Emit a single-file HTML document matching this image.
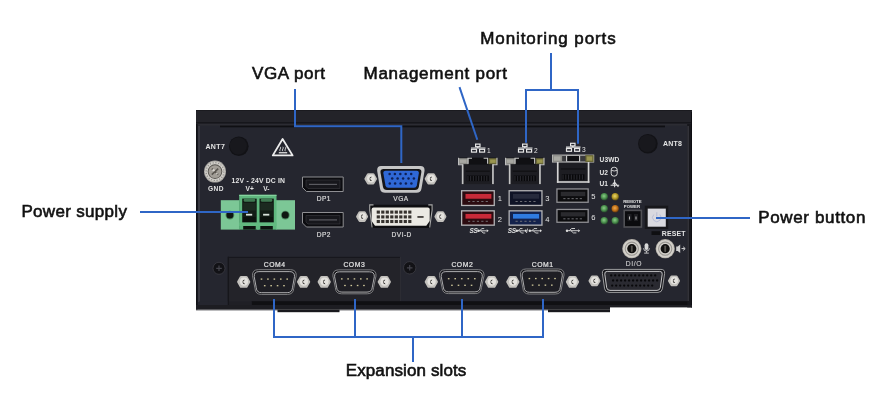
<!DOCTYPE html>
<html><head><meta charset="utf-8">
<style>
*{margin:0;padding:0;box-sizing:border-box}
html,body{width:876px;height:411px;background:#fff;overflow:hidden;position:relative;font-family:"Liberation Sans",sans-serif}
svg{position:absolute;left:0;top:0;will-change:transform}
svg text{font-family:"Liberation Sans",sans-serif}
.lbl{position:absolute;font-size:17px;font-weight:normal;-webkit-text-stroke:0.6px #111;color:#111;white-space:nowrap;line-height:1;transform-origin:0 0}
</style></head><body>
<svg width="876" height="411" viewBox="0 0 876 411">
<rect x="196.00" y="110.00" width="496.00" height="195.00" rx="0" fill="#25262f" />
<rect x="196.00" y="110.00" width="496.00" height="12.40" rx="0" fill="#232329" />
<rect x="196.00" y="110.00" width="496.00" height="0.80" rx="0" fill="#18181d" />
<rect x="196.00" y="122.40" width="496.00" height="1.20" rx="0" fill="#0e0e12" />
<rect x="196.00" y="123.60" width="496.00" height="2.00" rx="0" fill="#2c2c33" />
<rect x="220.00" y="125.60" width="445.00" height="1.70" rx="0" fill="#0f0f13" />
<rect x="196.00" y="124.00" width="1.60" height="186.00" rx="0" fill="#101014" />
<rect x="198.20" y="126.00" width="1.70" height="176.00" rx="0" fill="#3c3c45" />
<rect x="687.20" y="124.00" width="4.80" height="183.40" rx="0" fill="#17171c" />
<rect x="687.60" y="126.00" width="1.00" height="175.00" rx="0" fill="#44444c" />
<rect x="691.00" y="112.00" width="1.00" height="195.40" rx="0" fill="#0e0e12" />
<rect x="228.40" y="256.90" width="171.60" height="44.50" rx="0" fill="#232329" />
<rect x="228.40" y="256.90" width="171.60" height="1.00" rx="0" fill="#17171c" />
<rect x="227.80" y="256.90" width="1.20" height="44.50" rx="0" fill="#16161b" />
<rect x="400.00" y="256.90" width="1.00" height="44.50" rx="0" fill="#2c2c33" />
<rect x="251.50" y="301.20" width="436.00" height="4.00" rx="0" fill="#101013" />
<rect x="199.20" y="301.40" width="28.60" height="4.20" rx="0" fill="#25262f" />
<rect x="228.40" y="301.40" width="23.10" height="3.60" rx="0" fill="#1f1f25" />
<rect x="227.80" y="256.90" width="1.20" height="48.50" rx="0" fill="#16161b" />
<rect x="196.00" y="305.00" width="414.00" height="4.80" rx="0" fill="#1d1d22" />
<rect x="610.00" y="305.00" width="82.00" height="2.40" rx="0" fill="#1d1d22" />
<rect x="196.00" y="309.60" width="414.00" height="0.90" rx="0" fill="#7a7a7e" />
<rect x="277.50" y="309.60" width="62.00" height="2.60" rx="0" fill="#19191d" />
<rect x="548.00" y="309.60" width="62.00" height="2.60" rx="0" fill="#19191d" />
<text x="205.40" y="149.30" font-size="7.0" fill="#e4e4e4" text-anchor="start" font-weight="bold" letter-spacing="0.4">ANT7</text>
<circle cx="238.80" cy="146.30" r="9.80" fill="#121216" />
<circle cx="238.30" cy="145.80" r="8.60" fill="#18181d" />
<polygon points="282.6,139.0 272.8,155.4 292.6,155.4" fill="none" stroke="#ececec" stroke-width="1.8" stroke-linejoin="round"/>
<path d="M280.2,151.2 q-1,-1.1 0,-2.2 q1,-1.1 0,-2.2 M282.8,151.2 q-1,-1.1 0,-2.2 q1,-1.1 0,-2.2 M285.4,151.2 q-1,-1.1 0,-2.2 q1,-1.1 0,-2.2" stroke="#d8d8d8" stroke-width="0.9" fill="none"/>
<rect x="278.80" y="152.10" width="8.40" height="1.30" rx="0" fill="#e0e0e0" />
<circle cx="215.00" cy="171.60" r="11.00" fill="#a8a6a2" />
<circle cx="215.00" cy="171.60" r="10.20" fill="#d0cec9" />
<circle cx="215" cy="171.6" r="8.9" fill="none" stroke="#8e8c88" stroke-width="1.2" stroke-dasharray="1.2 1.6"/>
<circle cx="215.00" cy="171.60" r="7.30" fill="#55524e" />
<circle cx="215.00" cy="171.60" r="6.40" fill="#a29e97" />
<path d="M211.8,168.6 L218.2,174.6 M218.2,168.6 L211.8,174.6" stroke="#5a5650" stroke-width="1.6"/>
<circle cx="213.60" cy="170.20" r="1.20" fill="#d8d5cf" />
<circle cx="216.80" cy="173.40" r="1.00" fill="#c8c5bf" />
<text x="208.00" y="191.00" font-size="6.6" fill="#e4e4e4" text-anchor="start" font-weight="bold" letter-spacing="0.4">GND</text>
<text x="231.60" y="182.60" font-size="6.8" fill="#e4e4e4" text-anchor="start" font-weight="bold" letter-spacing="0.2">12V - 24V DC IN</text>
<text x="245.50" y="191.20" font-size="6.6" fill="#e4e4e4" text-anchor="start" font-weight="bold" >V+</text>
<text x="263.20" y="191.20" font-size="6.6" fill="#e4e4e4" text-anchor="start" font-weight="bold" >V-</text>
<rect x="220.80" y="200.20" width="18.70" height="29.40" rx="0" fill="#7cc796" />
<rect x="275.90" y="200.20" width="19.10" height="29.40" rx="0" fill="#7cc796" />
<rect x="239.20" y="194.80" width="37.30" height="34.80" rx="0" fill="#5fb77e" />
<rect x="239.20" y="194.80" width="37.30" height="1.20" rx="0" fill="#86d29f" />
<circle cx="229.90" cy="215.10" r="4.40" fill="#4f8a62" />
<circle cx="229.90" cy="215.10" r="3.50" fill="#0f1712" />
<circle cx="285.30" cy="215.10" r="4.40" fill="#4f8a62" />
<circle cx="285.30" cy="215.10" r="3.50" fill="#0f1712" />
<rect x="242.20" y="198.60" width="14.50" height="24.00" rx="0" fill="#121c15" />
<rect x="243.70" y="198.60" width="11.50" height="3.20" rx="1.5" fill="#3f7a52" />
<rect x="243.20" y="203.00" width="12.50" height="7.50" rx="0" fill="#1c2a20" />
<rect x="246.00" y="213.80" width="6.20" height="1.80" rx="0" fill="#d8e2da" />
<rect x="243.20" y="217.00" width="12.50" height="5.00" rx="0" fill="#0b120d" />
<rect x="243.20" y="226.00" width="12.50" height="3.60" rx="0" fill="#0d140f" />
<rect x="259.30" y="198.60" width="14.50" height="24.00" rx="0" fill="#121c15" />
<rect x="260.80" y="198.60" width="11.50" height="3.20" rx="1.5" fill="#3f7a52" />
<rect x="260.30" y="203.00" width="12.50" height="7.50" rx="0" fill="#1c2a20" />
<rect x="263.10" y="213.80" width="6.20" height="1.80" rx="0" fill="#d8e2da" />
<rect x="260.30" y="217.00" width="12.50" height="5.00" rx="0" fill="#0b120d" />
<rect x="260.30" y="226.00" width="12.50" height="3.60" rx="0" fill="#0d140f" />
<rect x="257.00" y="198.60" width="2.30" height="31.00" rx="0" fill="#5fb77e" />
<rect x="239.20" y="222.60" width="37.30" height="3.40" rx="0" fill="#62bb80" />
<path d="M302.5,177.0 L343.2,177.0 L343.2,191.5 L306.5,191.5 L302.5,187.5 Z" fill="#0c0c10" stroke="#8e8e92" stroke-width="1"/>
<path d="M306,180.0 L340,180.0 L340,188.5 L308,188.5 L306,186.5 Z" fill="#17171c" stroke="#3a3a40" stroke-width="0.6"/>
<rect x="309.00" y="183.80" width="28.00" height="1.20" rx="0" fill="#5a5a60" />
<path d="M302.5,212.5 L343.2,212.5 L343.2,227.0 L306.5,227.0 L302.5,223.0 Z" fill="#0c0c10" stroke="#8e8e92" stroke-width="1"/>
<path d="M306,215.5 L340,215.5 L340,224.0 L308,224.0 L306,222.0 Z" fill="#17171c" stroke="#3a3a40" stroke-width="0.6"/>
<rect x="309.00" y="219.30" width="28.00" height="1.20" rx="0" fill="#5a5a60" />
<text x="316.70" y="201.40" font-size="6.6" fill="#d8d8d8" text-anchor="start" font-weight="normal" letter-spacing="0.45" stroke="#d8d8d8" stroke-width="0.2">DP1</text>
<text x="316.70" y="237.30" font-size="6.6" fill="#d8d8d8" text-anchor="start" font-weight="normal" letter-spacing="0.45" stroke="#d8d8d8" stroke-width="0.2">DP2</text>
<polygon points="375.80,178.80 373.25,183.22 368.15,183.22 365.60,178.80 368.15,174.38 373.25,174.38" fill="#cfcdc9" stroke="#c2c0bc" stroke-width="2.4" stroke-linejoin="round"/>
<circle cx="371.00" cy="178.50" r="3.91" fill="#e4e2de" />
<path d="M371.60,176.50 a2.2,2.3 0 1 0 0.2,4.6 l-0.5,-1.2 a1.1,1.1 0 0 1 -0.1,-2.2 Z" fill="#3a3835"/>
<polygon points="436.10,178.80 433.55,183.22 428.45,183.22 425.90,178.80 428.45,174.38 433.55,174.38" fill="#cfcdc9" stroke="#c2c0bc" stroke-width="2.4" stroke-linejoin="round"/>
<circle cx="431.30" cy="178.50" r="3.91" fill="#e4e2de" />
<path d="M431.90,176.50 a2.2,2.3 0 1 0 0.2,4.6 l-0.5,-1.2 a1.1,1.1 0 0 1 -0.1,-2.2 Z" fill="#3a3835"/>
<path d="M381,166 L420.5,166 Q425,166 424.5,171 L421.5,188.5 Q420.8,192.8 416.5,192.8 L385,192.8 Q380.7,192.8 380,188.5 L377.2,171 Q376.8,166 381,166 Z" fill="#c6c6c6"/>
<path d="M383.5,169 L418.5,169 Q421.8,169 421.3,172.5 L418.8,187 Q418.2,190 415,190 L386.8,190 Q383.6,190 383,187 L380.5,172.5 Q380,169 383.5,169 Z" fill="#151518"/>
<path d="M385.6,170.8 L416.6,170.8 Q419.2,170.8 418.8,173.5 L416.8,185.6 Q416.3,187.8 414,187.8 L388.2,187.8 Q386,187.8 385.5,185.6 L383.4,173.5 Q383,170.8 385.6,170.8 Z" fill="#2f68d6"/>
<circle cx="389.60" cy="174.10" r="1.25" fill="#0d1f55" />
<circle cx="394.90" cy="174.10" r="1.25" fill="#0d1f55" />
<circle cx="400.30" cy="174.10" r="1.25" fill="#0d1f55" />
<circle cx="405.70" cy="174.10" r="1.25" fill="#0d1f55" />
<circle cx="411.20" cy="174.10" r="1.25" fill="#0d1f55" />
<circle cx="392.20" cy="178.60" r="1.25" fill="#0d1f55" />
<circle cx="397.60" cy="178.60" r="1.25" fill="#0d1f55" />
<circle cx="403.10" cy="178.60" r="1.25" fill="#0d1f55" />
<circle cx="408.50" cy="178.60" r="1.25" fill="#0d1f55" />
<circle cx="413.90" cy="178.60" r="1.25" fill="#0d1f55" />
<circle cx="389.80" cy="183.40" r="1.25" fill="#0d1f55" />
<circle cx="395.10" cy="183.40" r="1.25" fill="#0d1f55" />
<circle cx="400.60" cy="183.40" r="1.25" fill="#0d1f55" />
<circle cx="405.90" cy="183.40" r="1.25" fill="#0d1f55" />
<circle cx="411.40" cy="183.40" r="1.25" fill="#0d1f55" />
<text x="393.30" y="201.00" font-size="6.6" fill="#d8d8d8" text-anchor="start" font-weight="normal" letter-spacing="0.45" stroke="#d8d8d8" stroke-width="0.2">VGA</text>
<polygon points="366.90,216.60 364.50,220.76 359.70,220.76 357.30,216.60 359.70,212.44 364.50,212.44" fill="#cfcdc9" stroke="#c2c0bc" stroke-width="2.4" stroke-linejoin="round"/>
<circle cx="362.40" cy="216.30" r="3.72" fill="#e4e2de" />
<path d="M363.00,214.30 a2.2,2.3 0 1 0 0.2,4.6 l-0.5,-1.2 a1.1,1.1 0 0 1 -0.1,-2.2 Z" fill="#3a3835"/>
<polygon points="445.20,216.60 442.80,220.76 438.00,220.76 435.60,216.60 438.00,212.44 442.80,212.44" fill="#cfcdc9" stroke="#c2c0bc" stroke-width="2.4" stroke-linejoin="round"/>
<circle cx="440.70" cy="216.30" r="3.72" fill="#e4e2de" />
<path d="M441.30,214.30 a2.2,2.3 0 1 0 0.2,4.6 l-0.5,-1.2 a1.1,1.1 0 0 1 -0.1,-2.2 Z" fill="#3a3835"/>
<path d="M369.3,204.7 L432.5,204.7 L432.5,210 L430,228 L371.8,228 L369.3,210 Z" fill="#0e0e11"/>
<path d="M373.5,204.9 h-3.8 v5.2 l2.4,17.4 M428.3,204.9 h3.8 v5.2 l-2.4,17.4" stroke="#a8a8a8" stroke-width="1.1" fill="none"/>
<path d="M373.5,207.6 L427.8,207.6 Q429.7,207.6 429.7,209.6 L429.7,221 L426.3,225.7 L375,225.7 L371.6,221 L371.6,209.6 Q371.6,207.6 373.5,207.6 Z" fill="#ebe9e3"/>
<rect x="376.70" y="210.55" width="3.20" height="3.10" rx="0" fill="#36322e" />
<rect x="381.20" y="210.55" width="3.20" height="3.10" rx="0" fill="#36322e" />
<rect x="385.70" y="210.55" width="3.20" height="3.10" rx="0" fill="#36322e" />
<rect x="390.20" y="210.55" width="3.20" height="3.10" rx="0" fill="#36322e" />
<rect x="394.70" y="210.55" width="3.20" height="3.10" rx="0" fill="#36322e" />
<rect x="399.20" y="210.55" width="3.20" height="3.10" rx="0" fill="#36322e" />
<rect x="403.70" y="210.55" width="3.20" height="3.10" rx="0" fill="#36322e" />
<rect x="408.20" y="210.55" width="3.20" height="3.10" rx="0" fill="#36322e" />
<rect x="376.70" y="215.35" width="3.20" height="3.10" rx="0" fill="#36322e" />
<rect x="381.20" y="215.35" width="3.20" height="3.10" rx="0" fill="#36322e" />
<rect x="385.70" y="215.35" width="3.20" height="3.10" rx="0" fill="#36322e" />
<rect x="390.20" y="215.35" width="3.20" height="3.10" rx="0" fill="#36322e" />
<rect x="394.70" y="215.35" width="3.20" height="3.10" rx="0" fill="#36322e" />
<rect x="399.20" y="215.35" width="3.20" height="3.10" rx="0" fill="#36322e" />
<rect x="403.70" y="215.35" width="3.20" height="3.10" rx="0" fill="#36322e" />
<rect x="408.20" y="215.35" width="3.20" height="3.10" rx="0" fill="#36322e" />
<rect x="376.70" y="219.95" width="3.20" height="3.10" rx="0" fill="#36322e" />
<rect x="381.20" y="219.95" width="3.20" height="3.10" rx="0" fill="#36322e" />
<rect x="385.70" y="219.95" width="3.20" height="3.10" rx="0" fill="#36322e" />
<rect x="390.20" y="219.95" width="3.20" height="3.10" rx="0" fill="#36322e" />
<rect x="394.70" y="219.95" width="3.20" height="3.10" rx="0" fill="#36322e" />
<rect x="399.20" y="219.95" width="3.20" height="3.10" rx="0" fill="#36322e" />
<rect x="403.70" y="219.95" width="3.20" height="3.10" rx="0" fill="#36322e" />
<rect x="408.20" y="219.95" width="3.20" height="3.10" rx="0" fill="#36322e" />
<rect x="417.40" y="216.10" width="6.20" height="1.70" rx="0" fill="#3a3632" />
<text x="391.60" y="236.90" font-size="6.6" fill="#d8d8d8" text-anchor="start" font-weight="normal" letter-spacing="0.45" stroke="#d8d8d8" stroke-width="0.2">DVI-D</text>
<g stroke="#e6e6e6" stroke-width="1.2" fill="none"><rect x="475.6" y="144.1" width="4.4" height="2.6"/><rect x="471.5" y="149.3" width="5" height="2.8"/><rect x="479.6" y="149.3" width="5" height="2.8"/><path d="M477.8,146.7 v1.3 M471.0,148.0 h14.5"/></g>
<text x="487.00" y="152.60" font-size="6.6" fill="#e4e4e4" text-anchor="start" font-weight="normal" >1</text>
<g stroke="#e6e6e6" stroke-width="1.2" fill="none"><rect x="522.6" y="144.1" width="4.4" height="2.6"/><rect x="518.5" y="149.3" width="5" height="2.8"/><rect x="526.6" y="149.3" width="5" height="2.8"/><path d="M524.8,146.7 v1.3 M518.0,148.0 h14.5"/></g>
<text x="534.00" y="152.60" font-size="6.6" fill="#e4e4e4" text-anchor="start" font-weight="normal" >2</text>
<g stroke="#e6e6e6" stroke-width="1.2" fill="none"><rect x="570.6" y="143.3" width="4.4" height="2.6"/><rect x="566.5" y="148.5" width="5" height="2.8"/><rect x="574.6" y="148.5" width="5" height="2.8"/><path d="M572.8,145.9 v1.3 M566.0,147.2 h14.5"/></g>
<text x="582.00" y="151.80" font-size="6.6" fill="#e4e4e4" text-anchor="start" font-weight="normal" >3</text>
<rect x="461.80" y="164.70" width="32.00" height="19.40" rx="0" fill="#1d1d22" />
<rect x="458.00" y="157.70" width="39.60" height="7.00" rx="0" fill="#101013" />
<rect x="458.50" y="158.20" width="10.00" height="6.00" rx="0" fill="#8c8c88" />
<rect x="460.00" y="159.50" width="6.50" height="3.40" rx="0" fill="#a8a8a2" />
<rect x="488.60" y="158.20" width="8.50" height="6.00" rx="0" fill="#6a6838" />
<rect x="490.10" y="159.50" width="5.50" height="3.40" rx="0" fill="#9a9650" />
<path d="M458.6,157.7 v7.0 h4.2 M468.0,163.7 v-5.4 h4 M483.6,158.3 h4 v5.4 M497.0,157.7 v7.0 h-4.2" fill="none" stroke="#c4c4c4" stroke-width="1.1"/>
<rect x="461.80" y="164.20" width="1.70" height="19.90" rx="0" fill="#c4c4c4" />
<rect x="492.10" y="164.20" width="1.70" height="19.90" rx="0" fill="#c4c4c4" />
<rect x="465.80" y="170.70" width="24.00" height="0.90" rx="0" fill="#0c0c0e" />
<rect x="466.80" y="175.60" width="22.00" height="5.50" rx="0" fill="#08080a" />
<rect x="467.40" y="175.90" width="1.10" height="5.00" rx="0" fill="#2a2a30" />
<rect x="470.10" y="175.90" width="1.10" height="5.00" rx="0" fill="#2a2a30" />
<rect x="472.79" y="175.90" width="1.10" height="5.00" rx="0" fill="#2a2a30" />
<rect x="475.49" y="175.90" width="1.10" height="5.00" rx="0" fill="#2a2a30" />
<rect x="478.19" y="175.90" width="1.10" height="5.00" rx="0" fill="#2a2a30" />
<rect x="480.89" y="175.90" width="1.10" height="5.00" rx="0" fill="#2a2a30" />
<rect x="483.58" y="175.90" width="1.10" height="5.00" rx="0" fill="#2a2a30" />
<rect x="486.28" y="175.90" width="1.10" height="5.00" rx="0" fill="#2a2a30" />
<rect x="508.80" y="164.70" width="32.00" height="19.40" rx="0" fill="#1d1d22" />
<rect x="505.00" y="157.70" width="39.60" height="7.00" rx="0" fill="#101013" />
<rect x="505.50" y="158.20" width="10.00" height="6.00" rx="0" fill="#8c8c88" />
<rect x="507.00" y="159.50" width="6.50" height="3.40" rx="0" fill="#a8a8a2" />
<rect x="535.60" y="158.20" width="8.50" height="6.00" rx="0" fill="#6a6838" />
<rect x="537.10" y="159.50" width="5.50" height="3.40" rx="0" fill="#9a9650" />
<path d="M505.6,157.7 v7.0 h4.2 M515.0,163.7 v-5.4 h4 M530.6,158.3 h4 v5.4 M544.0,157.7 v7.0 h-4.2" fill="none" stroke="#c4c4c4" stroke-width="1.1"/>
<rect x="508.80" y="164.20" width="1.70" height="19.90" rx="0" fill="#c4c4c4" />
<rect x="539.10" y="164.20" width="1.70" height="19.90" rx="0" fill="#c4c4c4" />
<rect x="512.80" y="170.70" width="24.00" height="0.90" rx="0" fill="#0c0c0e" />
<rect x="513.80" y="175.60" width="22.00" height="5.50" rx="0" fill="#08080a" />
<rect x="514.40" y="175.90" width="1.10" height="5.00" rx="0" fill="#2a2a30" />
<rect x="517.10" y="175.90" width="1.10" height="5.00" rx="0" fill="#2a2a30" />
<rect x="519.79" y="175.90" width="1.10" height="5.00" rx="0" fill="#2a2a30" />
<rect x="522.49" y="175.90" width="1.10" height="5.00" rx="0" fill="#2a2a30" />
<rect x="525.19" y="175.90" width="1.10" height="5.00" rx="0" fill="#2a2a30" />
<rect x="527.89" y="175.90" width="1.10" height="5.00" rx="0" fill="#2a2a30" />
<rect x="530.58" y="175.90" width="1.10" height="5.00" rx="0" fill="#2a2a30" />
<rect x="533.28" y="175.90" width="1.10" height="5.00" rx="0" fill="#2a2a30" />
<rect x="556.90" y="162.50" width="32.50" height="20.30" rx="0" fill="#1d1d22" />
<rect x="552.00" y="154.60" width="42.20" height="7.90" rx="0" fill="#101013" />
<rect x="552.6" y="155.2" width="41.0" height="6.7" fill="none" stroke="#d4d4d4" stroke-width="1.2"/>
<rect x="552.50" y="155.10" width="10.00" height="6.90" rx="0" fill="#8c8c88" />
<rect x="554.00" y="156.40" width="6.50" height="4.30" rx="0" fill="#a8a8a2" />
<rect x="585.20" y="155.10" width="8.50" height="6.90" rx="0" fill="#6a6838" />
<rect x="586.70" y="156.40" width="5.50" height="4.30" rx="0" fill="#9a9650" />
<rect x="562.50" y="155.80" width="4.10" height="5.50" rx="0" fill="#3a3a3d" />
<rect x="579.60" y="155.80" width="5.60" height="5.50" rx="0" fill="#3a3a3d" />
<path d="M566.6,161.5 v-5.7 M579.6,161.5 v-5.7" stroke="#d4d4d4" stroke-width="1.1"/>
<rect x="556.90" y="162.00" width="1.70" height="20.80" rx="0" fill="#d4d4d4" />
<rect x="587.70" y="162.00" width="1.70" height="20.80" rx="0" fill="#d4d4d4" />
<rect x="556.90" y="181.20" width="32.50" height="1.60" rx="0" fill="#d4d4d4" />
<rect x="560.90" y="168.50" width="24.50" height="0.90" rx="0" fill="#0c0c0e" />
<rect x="561.90" y="174.30" width="22.50" height="5.50" rx="0" fill="#08080a" />
<rect x="562.50" y="174.60" width="1.10" height="5.00" rx="0" fill="#2a2a30" />
<rect x="565.26" y="174.60" width="1.10" height="5.00" rx="0" fill="#2a2a30" />
<rect x="568.03" y="174.60" width="1.10" height="5.00" rx="0" fill="#2a2a30" />
<rect x="570.79" y="174.60" width="1.10" height="5.00" rx="0" fill="#2a2a30" />
<rect x="573.55" y="174.60" width="1.10" height="5.00" rx="0" fill="#2a2a30" />
<rect x="576.32" y="174.60" width="1.10" height="5.00" rx="0" fill="#2a2a30" />
<rect x="579.08" y="174.60" width="1.10" height="5.00" rx="0" fill="#2a2a30" />
<rect x="581.84" y="174.60" width="1.10" height="5.00" rx="0" fill="#2a2a30" />
<rect x="461.00" y="190.10" width="33.90" height="16.00" rx="0" fill="#b4b4b6" />
<rect x="462.30" y="191.40" width="31.30" height="13.40" rx="0" fill="#2c0b10" />
<rect x="465.50" y="193.94" width="25.90" height="4.80" rx="0" fill="#c82a38" />
<rect x="468.00" y="200.98" width="2.20" height="0.90" rx="0" fill="#77777c" />
<rect x="472.42" y="200.98" width="2.20" height="0.90" rx="0" fill="#77777c" />
<rect x="476.84" y="200.98" width="2.20" height="0.90" rx="0" fill="#77777c" />
<rect x="481.27" y="200.98" width="2.20" height="0.90" rx="0" fill="#77777c" />
<rect x="485.69" y="200.98" width="2.20" height="0.90" rx="0" fill="#77777c" />
<rect x="461.00" y="210.20" width="33.90" height="15.60" rx="0" fill="#b4b4b6" />
<rect x="462.30" y="211.50" width="31.30" height="13.00" rx="0" fill="#2c0b10" />
<rect x="465.50" y="213.94" width="25.90" height="4.68" rx="0" fill="#c82a38" />
<rect x="468.00" y="220.81" width="2.20" height="0.90" rx="0" fill="#77777c" />
<rect x="472.42" y="220.81" width="2.20" height="0.90" rx="0" fill="#77777c" />
<rect x="476.84" y="220.81" width="2.20" height="0.90" rx="0" fill="#77777c" />
<rect x="481.27" y="220.81" width="2.20" height="0.90" rx="0" fill="#77777c" />
<rect x="485.69" y="220.81" width="2.20" height="0.90" rx="0" fill="#77777c" />
<rect x="508.50" y="190.10" width="34.10" height="16.00" rx="0" fill="#b4b4b6" />
<rect x="509.80" y="191.40" width="31.50" height="13.40" rx="0" fill="#0f1326" />
<rect x="513.00" y="193.94" width="26.10" height="4.80" rx="0" fill="#262a3c" />
<rect x="515.50" y="200.98" width="2.20" height="0.90" rx="0" fill="#77777c" />
<rect x="519.97" y="200.98" width="2.20" height="0.90" rx="0" fill="#77777c" />
<rect x="524.43" y="200.98" width="2.20" height="0.90" rx="0" fill="#77777c" />
<rect x="528.90" y="200.98" width="2.20" height="0.90" rx="0" fill="#77777c" />
<rect x="533.37" y="200.98" width="2.20" height="0.90" rx="0" fill="#77777c" />
<rect x="508.50" y="210.20" width="34.10" height="15.60" rx="0" fill="#b4b4b6" />
<rect x="509.80" y="211.50" width="31.50" height="13.00" rx="0" fill="#14224c" />
<rect x="513.00" y="213.94" width="26.10" height="4.68" rx="0" fill="#2f7be0" />
<rect x="515.50" y="220.81" width="2.20" height="0.90" rx="0" fill="#77777c" />
<rect x="519.97" y="220.81" width="2.20" height="0.90" rx="0" fill="#77777c" />
<rect x="524.43" y="220.81" width="2.20" height="0.90" rx="0" fill="#77777c" />
<rect x="528.90" y="220.81" width="2.20" height="0.90" rx="0" fill="#77777c" />
<rect x="533.37" y="220.81" width="2.20" height="0.90" rx="0" fill="#77777c" />
<rect x="556.30" y="188.30" width="32.50" height="14.60" rx="0" fill="#909094" />
<rect x="557.60" y="189.60" width="29.90" height="12.00" rx="0" fill="#0c0c0e" />
<rect x="560.80" y="191.80" width="24.50" height="4.38" rx="0" fill="#2a2a2e" />
<rect x="563.30" y="198.23" width="2.20" height="0.90" rx="0" fill="#77777c" />
<rect x="567.41" y="198.23" width="2.20" height="0.90" rx="0" fill="#77777c" />
<rect x="571.52" y="198.23" width="2.20" height="0.90" rx="0" fill="#77777c" />
<rect x="575.63" y="198.23" width="2.20" height="0.90" rx="0" fill="#77777c" />
<rect x="579.74" y="198.23" width="2.20" height="0.90" rx="0" fill="#77777c" />
<rect x="556.30" y="208.80" width="32.50" height="14.10" rx="0" fill="#909094" />
<rect x="557.60" y="210.10" width="29.90" height="11.50" rx="0" fill="#0c0c0e" />
<rect x="560.80" y="212.18" width="24.50" height="4.23" rx="0" fill="#2a2a2e" />
<rect x="563.30" y="218.39" width="2.20" height="0.90" rx="0" fill="#77777c" />
<rect x="567.41" y="218.39" width="2.20" height="0.90" rx="0" fill="#77777c" />
<rect x="571.52" y="218.39" width="2.20" height="0.90" rx="0" fill="#77777c" />
<rect x="575.63" y="218.39" width="2.20" height="0.90" rx="0" fill="#77777c" />
<rect x="579.74" y="218.39" width="2.20" height="0.90" rx="0" fill="#77777c" />
<text x="497.80" y="201.40" font-size="7.6" fill="#e4e4e4" text-anchor="start" font-weight="normal" >1</text>
<text x="497.80" y="221.50" font-size="7.6" fill="#e4e4e4" text-anchor="start" font-weight="normal" >2</text>
<text x="545.30" y="201.40" font-size="7.6" fill="#e4e4e4" text-anchor="start" font-weight="normal" >3</text>
<text x="545.30" y="221.50" font-size="7.6" fill="#e4e4e4" text-anchor="start" font-weight="normal" >4</text>
<text x="591.20" y="198.80" font-size="7.6" fill="#e4e4e4" text-anchor="start" font-weight="normal" >5</text>
<text x="591.20" y="219.50" font-size="7.6" fill="#e4e4e4" text-anchor="start" font-weight="normal" >6</text>
<text x="469.50" y="233.00" font-size="6.4" fill="#e4e4e4" text-anchor="start" font-weight="bold" font-style="italic" letter-spacing="-0.3">SS</text>
<g stroke="#dcdcdc" stroke-width="0.9" fill="none"><path d="M477.7,230.8 h9.0 M479.9,230.8 l1.8,-2.2 h2.5 M481.3,230.8 l1.8,2.2 h2.2"/></g>
<circle cx="478.50" cy="230.80" r="1.20" fill="#dcdcdc" />
<path d="M486.7,229.3 l2,1.5 l-2,1.5 Z" fill="#dcdcdc"/>
<text x="507.80" y="233.00" font-size="6.4" fill="#e4e4e4" text-anchor="start" font-weight="bold" font-style="italic" letter-spacing="-0.3">SS</text>
<g stroke="#dcdcdc" stroke-width="0.9" fill="none"><path d="M516.0,230.8 h9.0 M518.2,230.8 l1.8,-2.2 h2.5 M519.6,230.8 l1.8,2.2 h2.2"/></g>
<circle cx="516.80" cy="230.80" r="1.20" fill="#dcdcdc" />
<path d="M525.0,229.3 l2,1.5 l-2,1.5 Z" fill="#dcdcdc"/>
<path d="M527.5,228.6 l-1,4.4" stroke="#dcdcdc" stroke-width="0.9"/>
<g stroke="#dcdcdc" stroke-width="0.9" fill="none"><path d="M529.0,230.8 h11.0 M531.8,230.8 l2.2,-2.2 h3.1 M533.4,230.8 l2.2,2.2 h2.8"/></g>
<circle cx="529.80" cy="230.80" r="1.20" fill="#dcdcdc" />
<path d="M540.0,229.3 l2,1.5 l-2,1.5 Z" fill="#dcdcdc"/>
<g stroke="#dcdcdc" stroke-width="0.9" fill="none"><path d="M566.2,230.7 h12.0 M569.2,230.7 l2.4,-2.2 h3.4 M571.0,230.7 l2.4,2.2 h3.0"/></g>
<circle cx="567.00" cy="230.70" r="1.20" fill="#dcdcdc" />
<path d="M578.2,229.2 l2,1.5 l-2,1.5 Z" fill="#dcdcdc"/>
<circle cx="647.90" cy="143.80" r="9.80" fill="#121216" />
<circle cx="647.40" cy="143.30" r="8.60" fill="#18181d" />
<text x="662.90" y="146.40" font-size="7.0" fill="#e4e4e4" text-anchor="start" font-weight="bold" letter-spacing="0.2">ANT8</text>
<text x="599.60" y="162.30" font-size="6.6" fill="#e4e4e4" text-anchor="start" font-weight="bold" letter-spacing="0.1">U3WD</text>
<text x="599.60" y="174.50" font-size="6.6" fill="#e4e4e4" text-anchor="start" font-weight="bold" >U2</text>
<rect x="611.2" y="167.3" width="6.0" height="8.8" rx="2.6" fill="none" stroke="#dcdcdc" stroke-width="1"/><path d="M611.4,170.3 q2.8,1.4 5.6,0" stroke="#dcdcdc" stroke-width="0.9" fill="none"/>
<text x="599.60" y="186.40" font-size="6.6" fill="#e4e4e4" text-anchor="start" font-weight="bold" >U1</text>
<path d="M610.6,185.2 h8.6 M614.6,179.6 v7.6 M614.6,182.2 l3.8,4.6 M614.6,182.2 l-2,2.2" stroke="#dcdcdc" stroke-width="1.1" fill="none"/>
<defs><radialGradient id="lg" cx="0.45" cy="0.4" r="0.6"><stop offset="0" stop-color="#8ccc88"/><stop offset="0.55" stop-color="#4e9450"/><stop offset="1" stop-color="#24452a"/></radialGradient><radialGradient id="ly" cx="0.45" cy="0.4" r="0.6"><stop offset="0" stop-color="#e8d670"/><stop offset="0.55" stop-color="#b89e2a"/><stop offset="1" stop-color="#5a4a14"/></radialGradient><radialGradient id="lo" cx="0.45" cy="0.4" r="0.6"><stop offset="0" stop-color="#eeaa50"/><stop offset="0.55" stop-color="#c4741a"/><stop offset="1" stop-color="#5e340e"/></radialGradient></defs>
<circle cx="604.30" cy="196.80" r="3.70" fill="url(#lg)" />
<circle cx="615.20" cy="196.80" r="3.70" fill="url(#ly)" />
<circle cx="604.30" cy="208.80" r="3.70" fill="url(#lg)" />
<circle cx="615.20" cy="208.80" r="3.70" fill="url(#lo)" />
<circle cx="604.30" cy="220.80" r="3.70" fill="url(#lg)" />
<circle cx="615.20" cy="220.80" r="3.70" fill="url(#lg)" />
<text x="623.20" y="202.90" font-size="4.3" fill="#e4e4e4" text-anchor="start" font-weight="bold" >REMOTE</text>
<text x="623.80" y="207.80" font-size="4.3" fill="#e4e4e4" text-anchor="start" font-weight="bold" >POWER</text>
<rect x="624.20" y="210.40" width="17.20" height="16.60" rx="0" fill="#0b0b0e" stroke="#505055" stroke-width="1.6"/>
<rect x="627.50" y="214.00" width="4.00" height="7.00" rx="0" fill="#1e1e22" />
<rect x="634.00" y="214.00" width="4.00" height="7.00" rx="0" fill="#1e1e22" />
<rect x="629.00" y="216.50" width="1.00" height="3.00" rx="0" fill="#bbb" />
<rect x="635.50" y="216.50" width="1.00" height="3.00" rx="0" fill="#bbb" />
<rect x="644.80" y="205.70" width="23.40" height="23.30" rx="0" fill="#17171b" />
<rect x="647.70" y="208.60" width="18.10" height="18.10" rx="0" fill="#d9d9df" />
<path d="M653.8,214.5 a4.2,4.2 0 1 0 6,0" fill="none" stroke="#a9b0d0" stroke-width="0.7"/><path d="M656.8,212.2 v4.2" stroke="#a9b0d0" stroke-width="0.7"/>
<rect x="651.50" y="231.20" width="8.80" height="3.80" rx="0" fill="#0f0f12" />
<text x="661.80" y="235.60" font-size="6.9" fill="#e4e4e4" text-anchor="start" font-weight="bold" letter-spacing="0.2">RESET</text>
<circle cx="631.80" cy="248.70" r="9.60" fill="#b4b0a9" />
<circle cx="631.80" cy="248.70" r="8.80" fill="#d4d1cb" />
<circle cx="631.8" cy="248.7" r="6.6" fill="none" stroke="#9a9792" stroke-width="1.1"/>
<circle cx="631.80" cy="248.70" r="4.60" fill="#121110" />
<rect x="630.90" y="245.40" width="1.80" height="6.60" rx="0.9" fill="#55524d" />
<circle cx="665.20" cy="248.70" r="9.60" fill="#b4b0a9" />
<circle cx="665.20" cy="248.70" r="8.80" fill="#d4d1cb" />
<circle cx="665.2" cy="248.7" r="6.6" fill="none" stroke="#9a9792" stroke-width="1.1"/>
<circle cx="665.20" cy="248.70" r="4.60" fill="#121110" />
<rect x="664.30" y="245.40" width="1.80" height="6.60" rx="0.9" fill="#55524d" />
<path d="M644.6,245.2 a1.9,1.9 0 0 1 3.8,0 v2.8 a1.9,1.9 0 0 1 -3.8,0 Z" fill="#d8d8d8"/><path d="M643.6,248.2 a2.9,2.9 0 0 0 5.8,0 M646.5,251.1 v1.6 M644.2,253.1 h4.6" stroke="#d8d8d8" stroke-width="0.9" fill="none"/>
<path d="M676.2,246.4 h1.6 l2.4,-2 v8.6 l-2.4,-2 h-1.6 Z" fill="#d0d0d0"/><path d="M681.5,248.6 h3.2 M683.2,246.8 l2,1.8 l-2,1.8" stroke="#d8d8d8" stroke-width="1" fill="none"/>
<circle cx="219.00" cy="268.30" r="6.00" fill="#121216" stroke="#3c3c44" stroke-width="0.8"/>
<path d="M216.2,268.3 h5.6 M219.0,265.5 v5.6" stroke="#44444c" stroke-width="1.2"/>
<circle cx="409.70" cy="267.80" r="6.20" fill="#121216" stroke="#3c3c44" stroke-width="0.8"/>
<path d="M406.9,267.8 h5.6 M409.7,265.0 v5.6" stroke="#44444c" stroke-width="1.2"/>
<text x="263.80" y="266.90" font-size="6.8" fill="#e2e2e2" text-anchor="start" font-weight="normal" letter-spacing="0.55" stroke="#e2e2e2" stroke-width="0.2">COM4</text>
<polygon points="249.10,281.90 246.40,286.58 241.00,286.58 238.30,281.90 241.00,277.22 246.40,277.22" fill="#cfcdc9" stroke="#c2c0bc" stroke-width="2.4" stroke-linejoin="round"/>
<circle cx="244.00" cy="281.60" r="4.09" fill="#e4e2de" />
<path d="M244.60,279.60 a2.2,2.3 0 1 0 0.2,4.6 l-0.5,-1.2 a1.1,1.1 0 0 1 -0.1,-2.2 Z" fill="#3a3835"/>
<polygon points="309.00,281.90 306.30,286.58 300.90,286.58 298.20,281.90 300.90,277.22 306.30,277.22" fill="#cfcdc9" stroke="#c2c0bc" stroke-width="2.4" stroke-linejoin="round"/>
<circle cx="303.90" cy="281.60" r="4.09" fill="#e4e2de" />
<path d="M304.50,279.60 a2.2,2.3 0 1 0 0.2,4.6 l-0.5,-1.2 a1.1,1.1 0 0 1 -0.1,-2.2 Z" fill="#3a3835"/>
<path d="M258.20,269.70 L290.50,269.70 Q296.50,269.70 296.20,275.70 L293.70,288.40 Q293.40,294.40 287.40,294.40 L261.30,294.40 Q255.30,294.40 255.00,288.40 L252.50,275.70 Q252.20,269.70 258.20,269.70 Z" fill="#141418" stroke="#8a8a8c" stroke-width="0.9"/>
<path d="M258.90,271.60 L289.80,271.60 Q294.80,271.60 294.50,276.60 L292.46,287.70 Q292.16,292.70 287.16,292.70 L261.54,292.70 Q256.54,292.70 256.24,287.70 L254.20,276.60 Q253.90,271.60 258.90,271.60 Z" fill="#1e1e24" stroke="#bdbdbf" stroke-width="0.9"/>
<rect x="260.70" y="278.45" width="1.60" height="1.30" rx="0" fill="#cfc79a" />
<rect x="267.13" y="278.45" width="1.60" height="1.30" rx="0" fill="#cfc79a" />
<rect x="273.55" y="278.45" width="1.60" height="1.30" rx="0" fill="#cfc79a" />
<rect x="279.97" y="278.45" width="1.60" height="1.30" rx="0" fill="#cfc79a" />
<rect x="286.40" y="278.45" width="1.60" height="1.30" rx="0" fill="#cfc79a" />
<rect x="263.91" y="285.05" width="1.60" height="1.30" rx="0" fill="#cfc79a" />
<rect x="270.34" y="285.05" width="1.60" height="1.30" rx="0" fill="#cfc79a" />
<rect x="276.76" y="285.05" width="1.60" height="1.30" rx="0" fill="#cfc79a" />
<rect x="283.19" y="285.05" width="1.60" height="1.30" rx="0" fill="#cfc79a" />
<text x="343.40" y="266.90" font-size="6.8" fill="#e2e2e2" text-anchor="start" font-weight="normal" letter-spacing="0.55" stroke="#e2e2e2" stroke-width="0.2">COM3</text>
<polygon points="329.60,281.90 326.90,286.58 321.50,286.58 318.80,281.90 321.50,277.22 326.90,277.22" fill="#cfcdc9" stroke="#c2c0bc" stroke-width="2.4" stroke-linejoin="round"/>
<circle cx="324.50" cy="281.60" r="4.09" fill="#e4e2de" />
<path d="M325.10,279.60 a2.2,2.3 0 1 0 0.2,4.6 l-0.5,-1.2 a1.1,1.1 0 0 1 -0.1,-2.2 Z" fill="#3a3835"/>
<polygon points="389.70,281.90 387.00,286.58 381.60,286.58 378.90,281.90 381.60,277.22 387.00,277.22" fill="#cfcdc9" stroke="#c2c0bc" stroke-width="2.4" stroke-linejoin="round"/>
<circle cx="384.60" cy="281.60" r="4.09" fill="#e4e2de" />
<path d="M385.20,279.60 a2.2,2.3 0 1 0 0.2,4.6 l-0.5,-1.2 a1.1,1.1 0 0 1 -0.1,-2.2 Z" fill="#3a3835"/>
<path d="M338.60,269.90 L370.30,269.90 Q376.30,269.90 376.00,275.90 L373.54,287.80 Q373.24,293.80 367.24,293.80 L341.66,293.80 Q335.66,293.80 335.36,287.80 L332.90,275.90 Q332.60,269.90 338.60,269.90 Z" fill="#141418" stroke="#8a8a8c" stroke-width="0.9"/>
<path d="M339.30,271.80 L369.60,271.80 Q374.60,271.80 374.30,276.80 L372.30,287.10 Q372.00,292.10 367.00,292.10 L341.90,292.10 Q336.90,292.10 336.60,287.10 L334.60,276.80 Q334.30,271.80 339.30,271.80 Z" fill="#1e1e24" stroke="#bdbdbf" stroke-width="0.9"/>
<rect x="340.98" y="278.25" width="1.60" height="1.30" rx="0" fill="#cfc79a" />
<rect x="347.31" y="278.25" width="1.60" height="1.30" rx="0" fill="#cfc79a" />
<rect x="353.65" y="278.25" width="1.60" height="1.30" rx="0" fill="#cfc79a" />
<rect x="359.99" y="278.25" width="1.60" height="1.30" rx="0" fill="#cfc79a" />
<rect x="366.32" y="278.25" width="1.60" height="1.30" rx="0" fill="#cfc79a" />
<rect x="344.15" y="284.85" width="1.60" height="1.30" rx="0" fill="#cfc79a" />
<rect x="350.48" y="284.85" width="1.60" height="1.30" rx="0" fill="#cfc79a" />
<rect x="356.82" y="284.85" width="1.60" height="1.30" rx="0" fill="#cfc79a" />
<rect x="363.15" y="284.85" width="1.60" height="1.30" rx="0" fill="#cfc79a" />
<text x="451.40" y="266.90" font-size="6.8" fill="#e2e2e2" text-anchor="start" font-weight="normal" letter-spacing="0.55" stroke="#e2e2e2" stroke-width="0.2">COM2</text>
<polygon points="436.70,281.90 434.00,286.58 428.60,286.58 425.90,281.90 428.60,277.22 434.00,277.22" fill="#cfcdc9" stroke="#c2c0bc" stroke-width="2.4" stroke-linejoin="round"/>
<circle cx="431.60" cy="281.60" r="4.09" fill="#e4e2de" />
<path d="M432.20,279.60 a2.2,2.3 0 1 0 0.2,4.6 l-0.5,-1.2 a1.1,1.1 0 0 1 -0.1,-2.2 Z" fill="#3a3835"/>
<polygon points="497.00,281.90 494.30,286.58 488.90,286.58 486.20,281.90 488.90,277.22 494.30,277.22" fill="#cfcdc9" stroke="#c2c0bc" stroke-width="2.4" stroke-linejoin="round"/>
<circle cx="491.90" cy="281.60" r="4.09" fill="#e4e2de" />
<path d="M492.50,279.60 a2.2,2.3 0 1 0 0.2,4.6 l-0.5,-1.2 a1.1,1.1 0 0 1 -0.1,-2.2 Z" fill="#3a3835"/>
<path d="M445.20,269.70 L478.30,269.70 Q484.30,269.70 484.00,275.70 L481.44,287.60 Q481.14,293.60 475.14,293.60 L448.36,293.60 Q442.36,293.60 442.06,287.60 L439.50,275.70 Q439.20,269.70 445.20,269.70 Z" fill="#141418" stroke="#8a8a8c" stroke-width="0.9"/>
<path d="M445.90,271.60 L477.60,271.60 Q482.60,271.60 482.30,276.60 L480.22,286.90 Q479.92,291.90 474.92,291.90 L448.58,291.90 Q443.58,291.90 443.28,286.90 L441.20,276.60 Q440.90,271.60 445.90,271.60 Z" fill="#1e1e24" stroke="#bdbdbf" stroke-width="0.9"/>
<rect x="447.87" y="278.05" width="1.60" height="1.30" rx="0" fill="#cfc79a" />
<rect x="454.41" y="278.05" width="1.60" height="1.30" rx="0" fill="#cfc79a" />
<rect x="460.95" y="278.05" width="1.60" height="1.30" rx="0" fill="#cfc79a" />
<rect x="467.49" y="278.05" width="1.60" height="1.30" rx="0" fill="#cfc79a" />
<rect x="474.03" y="278.05" width="1.60" height="1.30" rx="0" fill="#cfc79a" />
<rect x="451.14" y="284.65" width="1.60" height="1.30" rx="0" fill="#cfc79a" />
<rect x="457.68" y="284.65" width="1.60" height="1.30" rx="0" fill="#cfc79a" />
<rect x="464.22" y="284.65" width="1.60" height="1.30" rx="0" fill="#cfc79a" />
<rect x="470.76" y="284.65" width="1.60" height="1.30" rx="0" fill="#cfc79a" />
<text x="531.80" y="266.90" font-size="6.8" fill="#e2e2e2" text-anchor="start" font-weight="normal" letter-spacing="0.55" stroke="#e2e2e2" stroke-width="0.2">COM1</text>
<polygon points="518.20,281.90 515.50,286.58 510.10,286.58 507.40,281.90 510.10,277.22 515.50,277.22" fill="#cfcdc9" stroke="#c2c0bc" stroke-width="2.4" stroke-linejoin="round"/>
<circle cx="513.10" cy="281.60" r="4.09" fill="#e4e2de" />
<path d="M513.70,279.60 a2.2,2.3 0 1 0 0.2,4.6 l-0.5,-1.2 a1.1,1.1 0 0 1 -0.1,-2.2 Z" fill="#3a3835"/>
<polygon points="577.90,281.90 575.20,286.58 569.80,286.58 567.10,281.90 569.80,277.22 575.20,277.22" fill="#cfcdc9" stroke="#c2c0bc" stroke-width="2.4" stroke-linejoin="round"/>
<circle cx="572.80" cy="281.60" r="4.09" fill="#e4e2de" />
<path d="M573.40,279.60 a2.2,2.3 0 1 0 0.2,4.6 l-0.5,-1.2 a1.1,1.1 0 0 1 -0.1,-2.2 Z" fill="#3a3835"/>
<path d="M526.10,269.00 L558.30,269.00 Q564.30,269.00 564.00,275.00 L561.51,288.00 Q561.21,294.00 555.21,294.00 L529.19,294.00 Q523.19,294.00 522.89,288.00 L520.40,275.00 Q520.10,269.00 526.10,269.00 Z" fill="#141418" stroke="#8a8a8c" stroke-width="0.9"/>
<path d="M526.80,270.90 L557.60,270.90 Q562.60,270.90 562.30,275.90 L560.27,287.30 Q559.97,292.30 554.97,292.30 L529.43,292.30 Q524.43,292.30 524.13,287.30 L522.10,275.90 Q521.80,270.90 526.80,270.90 Z" fill="#1e1e24" stroke="#bdbdbf" stroke-width="0.9"/>
<rect x="528.58" y="277.90" width="1.60" height="1.30" rx="0" fill="#cfc79a" />
<rect x="534.99" y="277.90" width="1.60" height="1.30" rx="0" fill="#cfc79a" />
<rect x="541.40" y="277.90" width="1.60" height="1.30" rx="0" fill="#cfc79a" />
<rect x="547.81" y="277.90" width="1.60" height="1.30" rx="0" fill="#cfc79a" />
<rect x="554.22" y="277.90" width="1.60" height="1.30" rx="0" fill="#cfc79a" />
<rect x="531.79" y="284.50" width="1.60" height="1.30" rx="0" fill="#cfc79a" />
<rect x="538.20" y="284.50" width="1.60" height="1.30" rx="0" fill="#cfc79a" />
<rect x="544.60" y="284.50" width="1.60" height="1.30" rx="0" fill="#cfc79a" />
<rect x="551.01" y="284.50" width="1.60" height="1.30" rx="0" fill="#cfc79a" />
<text x="625.80" y="265.80" font-size="6.8" fill="#e4e4e4" text-anchor="start" font-weight="normal" letter-spacing="0.6">DI/O</text>
<polygon points="599.30,280.80 596.90,284.96 592.10,284.96 589.70,280.80 592.10,276.64 596.90,276.64" fill="#cfcdc9" stroke="#c2c0bc" stroke-width="2.4" stroke-linejoin="round"/>
<circle cx="594.80" cy="280.50" r="3.72" fill="#e4e2de" />
<path d="M595.40,278.50 a2.2,2.3 0 1 0 0.2,4.6 l-0.5,-1.2 a1.1,1.1 0 0 1 -0.1,-2.2 Z" fill="#3a3835"/>
<polygon points="678.80,280.80 676.40,284.96 671.60,284.96 669.20,280.80 671.60,276.64 676.40,276.64" fill="#cfcdc9" stroke="#c2c0bc" stroke-width="2.4" stroke-linejoin="round"/>
<circle cx="674.30" cy="280.50" r="3.72" fill="#e4e2de" />
<path d="M674.90,278.50 a2.2,2.3 0 1 0 0.2,4.6 l-0.5,-1.2 a1.1,1.1 0 0 1 -0.1,-2.2 Z" fill="#3a3835"/>
<path d="M606,269.4 L661,269.4 Q665,269.4 664.6,273.4 L662.4,288.8 Q661.8,292.4 658,292.4 L609,292.4 Q605.2,292.4 604.6,288.8 L602.4,273.4 Q602,269.4 606,269.4 Z" fill="#16161b" stroke="#aaaaac" stroke-width="0.9"/>
<path d="M607.2,271.4 L659.8,271.4 Q662.6,271.4 662.2,274.2 L660.3,287.8 Q659.8,290.4 657,290.4 L610,290.4 Q607.2,290.4 606.7,287.8 L604.8,274.2 Q604.4,271.4 607.2,271.4 Z" fill="#2a2a31" stroke="#c4c4c6" stroke-width="1"/>
<circle cx="611.20" cy="275.40" r="1.15" fill="#08080a" />
<circle cx="615.20" cy="275.40" r="1.15" fill="#08080a" />
<circle cx="619.20" cy="275.40" r="1.15" fill="#08080a" />
<circle cx="623.20" cy="275.40" r="1.15" fill="#08080a" />
<circle cx="627.20" cy="275.40" r="1.15" fill="#08080a" />
<circle cx="631.20" cy="275.40" r="1.15" fill="#08080a" />
<circle cx="635.20" cy="275.40" r="1.15" fill="#08080a" />
<circle cx="639.20" cy="275.40" r="1.15" fill="#08080a" />
<circle cx="643.20" cy="275.40" r="1.15" fill="#08080a" />
<circle cx="647.20" cy="275.40" r="1.15" fill="#08080a" />
<circle cx="651.20" cy="275.40" r="1.15" fill="#08080a" />
<circle cx="655.20" cy="275.40" r="1.15" fill="#08080a" />
<circle cx="613.10" cy="280.50" r="1.15" fill="#08080a" />
<circle cx="617.10" cy="280.50" r="1.15" fill="#08080a" />
<circle cx="621.10" cy="280.50" r="1.15" fill="#08080a" />
<circle cx="625.10" cy="280.50" r="1.15" fill="#08080a" />
<circle cx="629.10" cy="280.50" r="1.15" fill="#08080a" />
<circle cx="633.10" cy="280.50" r="1.15" fill="#08080a" />
<circle cx="637.10" cy="280.50" r="1.15" fill="#08080a" />
<circle cx="641.10" cy="280.50" r="1.15" fill="#08080a" />
<circle cx="645.10" cy="280.50" r="1.15" fill="#08080a" />
<circle cx="649.10" cy="280.50" r="1.15" fill="#08080a" />
<circle cx="653.10" cy="280.50" r="1.15" fill="#08080a" />
<circle cx="657.10" cy="280.50" r="1.15" fill="#08080a" />
<circle cx="612.20" cy="285.60" r="1.15" fill="#08080a" />
<circle cx="616.20" cy="285.60" r="1.15" fill="#08080a" />
<circle cx="620.20" cy="285.60" r="1.15" fill="#08080a" />
<circle cx="624.20" cy="285.60" r="1.15" fill="#08080a" />
<circle cx="628.20" cy="285.60" r="1.15" fill="#08080a" />
<circle cx="632.20" cy="285.60" r="1.15" fill="#08080a" />
<circle cx="636.20" cy="285.60" r="1.15" fill="#08080a" />
<circle cx="640.20" cy="285.60" r="1.15" fill="#08080a" />
<circle cx="644.20" cy="285.60" r="1.15" fill="#08080a" />
<circle cx="648.20" cy="285.60" r="1.15" fill="#08080a" />
<circle cx="652.20" cy="285.60" r="1.15" fill="#08080a" />
<g fill="none" stroke="#2f66c6" stroke-width="2" stroke-linejoin="miter">
<polyline points="295,89 295,126.2 401.3,126.2 401.3,163"/>
<line x1="459.5" y1="87.1" x2="477.3" y2="139.7"/>
<polyline points="551,53 551,90"/>
<polyline points="526,142.8 526,90 578,90 578,143.7"/>
<line x1="140" y1="212" x2="248" y2="212"/>
<line x1="656" y1="218" x2="750" y2="218"/>
<polyline points="274,299 274,337 543,337 543,299"/>
<line x1="355" y1="299" x2="355" y2="337"/>
<line x1="462" y1="299" x2="462" y2="337"/>
<line x1="413" y1="337" x2="413" y2="362"/>
</g>
</svg>
<div class="lbl" style="left:252.0px;top:64.5px;letter-spacing:0.557px">VGA port</div>
<div class="lbl" style="left:363.5px;top:65.2px;letter-spacing:0.729px">Management port</div>
<div class="lbl" style="left:480.3px;top:29.5px;letter-spacing:0.9px">Monitoring ports</div>
<div class="lbl" style="left:21.4px;top:203.3px;letter-spacing:0.318px">Power supply</div>
<div class="lbl" style="left:758.3px;top:209.3px;letter-spacing:0.627px">Power button</div>
<div class="lbl" style="left:345.7px;top:362.3px;letter-spacing:0.114px">Expansion slots</div>
</body></html>
